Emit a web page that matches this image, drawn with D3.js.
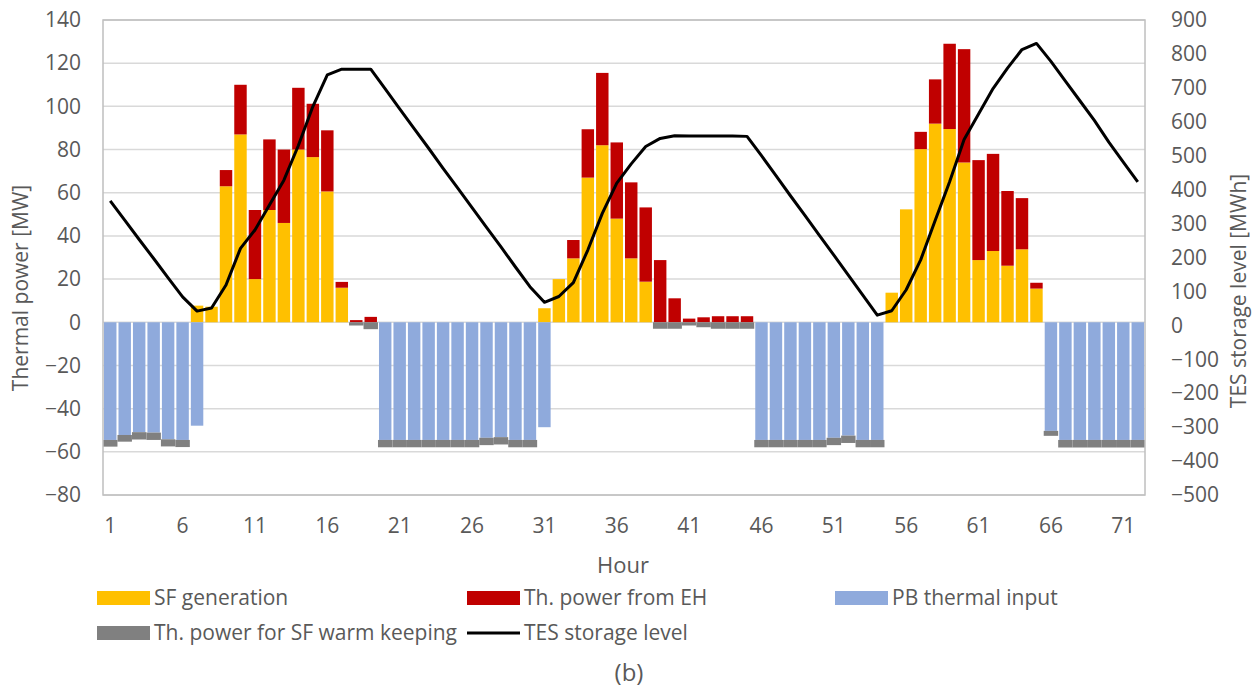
<!DOCTYPE html>
<html>
<head>
<meta charset="utf-8">
<script src="https://cdn.jsdelivr.net/npm/d3@7"></script>
<style>
  html, body { margin: 0; padding: 0; background: #fff; }
  svg { display: block; }
  text { font-family: "Open Sans", "Noto Sans", sans-serif; fill: #595959; }
</style>
</head>
<body>
<svg id="chart" width="1257" height="689"></svg>
<script>
// Hours of the 3-day schedule
const hours = d3.range(1, 73);

// Solar field generation [MW]
const sfGeneration = [
  0, 0, 0, 0, 0, 0, 7.7, 7.2, 63, 87, 20, 52, 46, 80, 76.5, 60.6, 16, 0, 0, 0,
  0, 0, 0, 0, 0, 0, 0, 0, 0, 0, 6.5, 20, 29.6, 67, 82, 48, 29.6, 18.8, 0, 0,
  0, 0, 0, 0, 0, 0, 0, 0, 0, 0, 0, 0, 0, 0, 13.7, 52.3, 80.2, 92, 89.5, 74,
  28.8, 33, 26.2, 33.8, 15.6, 0, 0, 0, 0, 0, 0, 0
];

// Thermal power from the electric heater [MW]
const ehPower = [
  0, 0, 0, 0, 0, 0, 0, 0, 7.5, 23, 32, 32.7, 34, 28.6, 24.7, 28.3, 2.7, 1.0, 2.5, 0,
  0, 0, 0, 0, 0, 0, 0, 0, 0, 0, 0, 0, 8.5, 22.4, 33.5, 35.3, 35.2, 34.4, 28.8, 11.1,
  1.7, 2.3, 2.8, 2.8, 2.8, 0, 0, 0, 0, 0, 0, 0, 0, 0, 0, 0, 8, 20.5, 39.5, 52.5,
  46.3, 45, 34.6, 23.7, 2.7, 0, 0, 0, 0, 0, 0, 0
];

// Power block thermal input [MW] (drawn below zero)
const pbInput = [
  -54.5, -52.2, -50.9, -51.1, -54.2, -54.5, -47.9, 0, 0, 0, 0, 0, 0, 0, 0, 0, 0, 0, 0, -54.5,
  -54.5, -54.5, -54.5, -54.5, -54.5, -54.5, -53.5, -53.2, -54.5, -54.5, -48.6, 0, 0, 0, 0, 0, 0, 0, 0, 0,
  0, 0, 0, 0, 0, -54.5, -54.5, -54.5, -54.5, -54.5, -53.5, -52.5, -54.5, -54.5, 0, 0, 0, 0, 0, 0,
  0, 0, 0, 0, 0, -50.3, -54.5, -54.5, -54.5, -54.5, -54.5, -54.5
];

// Thermal power for solar field warm keeping [MW] (drawn below zero)
const warmKeeping = [
  -3.1, -3.1, -3.4, -3.4, -3.3, -3.3, 0, 0, 0, 0, 0, 0, 0, 0, 0, 0, 0, -1.5, -3.2, -3.4,
  -3.4, -3.4, -3.4, -3.4, -3.4, -3.4, -3.4, -3.4, -3.4, -3.4, 0, 0, 0, 0, 0, 0, 0, 0, -3.0, -3.0,
  -1.5, -2.3, -3.0, -3.0, -3.0, -3.4, -3.4, -3.4, -3.4, -3.4, -3.4, -3.4, -3.4, -3.4, 0, 0, 0, 0, 0, 0,
  0, 0, 0, 0, 0, -2.3, -3.5, -3.5, -3.5, -3.5, -3.5, -3.5
];

// Thermal energy storage level [MWh]
const tesLevel = [
  367, 310, 253, 197, 140, 84, 42, 51, 119, 227, 281, 355, 428, 530, 645, 738, 755, 755, 755, 697,
  638, 580, 522, 463, 405, 347, 289, 231, 172, 114, 68, 85, 126, 222, 330, 419, 476, 527, 551, 559,
  558, 558, 558, 558, 557, 500, 441, 382, 324, 265, 207, 148, 89, 30, 43, 105, 193, 309, 423, 548,
  623, 698, 758, 813, 831, 778, 720, 662, 604, 540, 481, 423
];

const leftTicks = [-80, -60, -40, -20, 0, 20, 40, 60, 80, 100, 120, 140];
const rightTicks = [-500, -400, -300, -200, -100, 0, 100, 200, 300, 400, 500, 600, 700, 800, 900];
const hourTicks = [1, 6, 11, 16, 21, 26, 31, 36, 41, 46, 51, 56, 61, 66, 71];

const seriesNames = {
  sf: "SF generation",
  eh: "Th. power from EH",
  pb: "PB thermal input",
  wk: "Th. power for SF warm keeping",
  tes: "TES storage level"
};
const colors = { sf: "#FFC000", eh: "#C00000", pb: "#8FAADC", wk: "#808080", tes: "#000000" };

const svg = d3.select("#chart");
const plot = { left: 103, right: 1145, top: 20, bottom: 495 };

const x = d3.scaleBand().domain(hours).range([plot.left, plot.right])
  .paddingInner(0.14).paddingOuter(0.07);
const yL = d3.scaleLinear().domain([-80, 140]).range([plot.bottom, plot.top]);
const yR = d3.scaleLinear().domain([-500, 900]).range([plot.bottom, plot.top]);

// Horizontal gridlines
svg.append("g").selectAll("line").data(leftTicks).join("line")
  .attr("x1", plot.left).attr("x2", plot.right)
  .attr("y1", d => yL(d)).attr("y2", d => yL(d))
  .attr("stroke", "#D9D9D9").attr("stroke-width", 1.5);

// Stacked bars: positives stack upward, negatives downward
const rows = hours.map((h, i) => ({
  hour: h, sf: sfGeneration[i], eh: ehPower[i], pb: pbInput[i], wk: warmKeeping[i]
}));
const keys = ["sf", "eh", "pb", "wk"];
const stacked = d3.stack().keys(keys).offset(d3.stackOffsetDiverging)(rows);

const barG = svg.append("g");
stacked.forEach(layer => {
  const k = layer.key;
  barG.append("g").selectAll("rect")
    .data(layer.filter(d => d[1] - d[0] !== 0))
    .join("rect")
    .attr("x", d => x(d.data.hour) - (k === "wk" ? 1 : 0))
    .attr("width", x.bandwidth() + (k === "wk" ? 2 : 0))
    .attr("y", d => yL(Math.max(d[0], d[1])))
    .attr("height", d => Math.abs(yL(d[0]) - yL(d[1])))
    .attr("fill", colors[k]);
});

// Plot frame
svg.append("rect")
  .attr("x", plot.left).attr("y", plot.top)
  .attr("width", plot.right - plot.left).attr("height", plot.bottom - plot.top)
  .attr("fill", "none").attr("stroke", "#BFBFBF").attr("stroke-width", 1.5);

// TES storage level line on the secondary axis
const line = d3.line()
  .x((d, i) => x(hours[i]) + x.bandwidth() / 2)
  .y(d => yR(d));
svg.append("path").datum(tesLevel)
  .attr("d", line)
  .attr("fill", "none").attr("stroke", colors.tes)
  .attr("stroke-width", 3).attr("stroke-linejoin", "round");

// Axes
const fs = "21px";
const leftAxis = svg.append("g").attr("transform", `translate(${plot.left},0)`)
  .call(d3.axisLeft(yL).tickValues(leftTicks).tickSize(0).tickPadding(22));
const rightAxis = svg.append("g").attr("transform", `translate(${plot.right},0)`)
  .call(d3.axisRight(yR).tickValues(rightTicks).tickSize(0).tickPadding(26));
const bottomAxis = svg.append("g").attr("transform", `translate(0,${plot.bottom})`)
  .call(d3.axisBottom(x).tickValues(hourTicks).tickSize(0).tickPadding(23));
[leftAxis, rightAxis, bottomAxis].forEach(a => {
  a.select(".domain").remove();
  a.selectAll("text").attr("font-size", fs).attr("fill", "#595959")
    .style("font-family", '"Open Sans", "Noto Sans", sans-serif');
});

// Axis titles
svg.append("text")
  .attr("transform", "translate(28,288) rotate(-90)")
  .attr("text-anchor", "middle").attr("font-size", "21px")
  .text("Thermal power [MW]");
svg.append("text")
  .attr("transform", "translate(1246,291) rotate(-90)")
  .attr("text-anchor", "middle").attr("font-size", "21px")
  .text("TES storage level [MWh]");
svg.append("text")
  .attr("x", 623).attr("y", 573)
  .attr("text-anchor", "middle").attr("font-size", "22px")
  .text("Hour");

// Legend
const legendItems = [
  { key: "sf", x: 97, y: 598 },
  { key: "eh", x: 467, y: 598 },
  { key: "pb", x: 835, y: 598 },
  { key: "wk", x: 97, y: 633 },
  { key: "tes", x: 467, y: 633 }
];
const lg = svg.append("g");
legendItems.forEach(it => {
  if (it.key === "tes") {
    lg.append("line").attr("x1", it.x).attr("x2", it.x + 53)
      .attr("y1", it.y).attr("y2", it.y)
      .attr("stroke", colors.tes).attr("stroke-width", 3);
  } else {
    lg.append("rect").attr("x", it.x).attr("y", it.y - 7)
      .attr("width", 53).attr("height", 14).attr("fill", colors[it.key]);
  }
  lg.append("text").attr("x", it.x + 57).attr("y", it.y)
    .attr("dy", "0.35em").attr("font-size", "21px")
    .text(seriesNames[it.key]);
});

// Panel label
svg.append("text")
  .attr("x", 629).attr("y", 673).attr("dy", "0.35em")
  .attr("text-anchor", "middle").attr("font-size", "24px")
  .text("(b)");
</script>
</body>
</html>
